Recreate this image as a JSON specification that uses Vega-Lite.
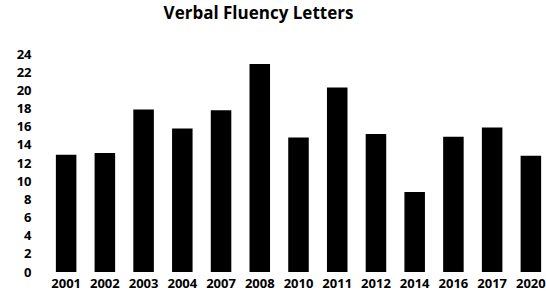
{
  "$schema": "https://vega.github.io/schema/vega-lite/v6.json",
  "autosize": {"type": "none"},
  "width": 493,
  "height": 218,
  "padding": {"left": 52, "top": 54, "right": 1, "bottom": 27},
  "background": "white",
  "title": {
    "text": "Verbal Fluency Letters",
    "font": "Open Sans",
    "fontSize": 17,
    "fontWeight": "bold",
    "color": "black",
    "anchor": "middle",
    "dx": -40,
    "offset": 25
  },
  "data": {
    "values": [
      {"year": "2001", "value": 12.9},
      {"year": "2002", "value": 13.1},
      {"year": "2003", "value": 17.9},
      {"year": "2004", "value": 15.8},
      {"year": "2007", "value": 17.8},
      {"year": "2008", "value": 22.9},
      {"year": "2010", "value": 14.8},
      {"year": "2011", "value": 20.3},
      {"year": "2012", "value": 15.2},
      {"year": "2014", "value": 8.8},
      {"year": "2016", "value": 14.9},
      {"year": "2017", "value": 15.9},
      {"year": "2020", "value": 12.8}
    ]
  },
  "mark": {"type": "bar", "color": "black"},
  "encoding": {
    "x": {
      "field": "year",
      "type": "nominal",
      "sort": null,
      "scale": {"paddingInner": 0.47, "paddingOuter": 0.1},
      "axis": {
        "title": null,
        "labelAngle": 0,
        "domain": false,
        "ticks": false,
        "labelPadding": 5,
        "labelFont": "Open Sans",
        "labelFontSize": 13,
        "labelFontWeight": "bold",
        "labelColor": "black"
      }
    },
    "y": {
      "field": "value",
      "type": "quantitative",
      "scale": {"domain": [0, 24], "nice": false},
      "axis": {
        "title": null,
        "values": [0, 2, 4, 6, 8, 10, 12, 14, 16, 18, 20, 22, 24],
        "grid": false,
        "domain": false,
        "ticks": false,
        "labelPadding": 21,
        "labelFont": "Open Sans",
        "labelFontSize": 13,
        "labelFontWeight": "bold",
        "labelColor": "black"
      }
    }
  },
  "config": {"view": {"stroke": null}}
}
